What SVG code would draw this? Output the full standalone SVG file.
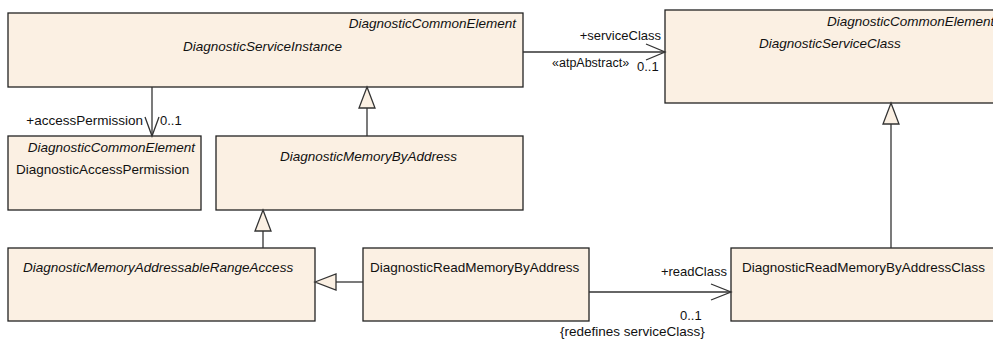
<svg xmlns="http://www.w3.org/2000/svg" width="993" height="341" viewBox="0 0 993 341">
<style>
.box{fill:#FBF0E3;stroke:#222;stroke-width:1.3}
.t{font-family:"Liberation Sans",Arial,sans-serif;font-size:13.5px;fill:#111}
.i{font-style:italic}
.l{font-family:"Liberation Sans",Arial,sans-serif;font-size:13px;fill:#111}
.c{stroke:#333;stroke-width:1.3;fill:none}
.gen{fill:#FBF0E3;stroke:#333;stroke-width:1.3}
</style>
<rect width="993" height="341" fill="#fff"/>
<g id="DiagnosticServiceInstance">
<rect class="box" x="8" y="13" width="515" height="74"/>
<text class="t i" x="516" y="28" text-anchor="end">DiagnosticCommonElement</text>
<text class="t i" x="183" y="51">DiagnosticServiceInstance</text>
</g>
<g id="DiagnosticServiceClass">
<rect class="box" x="665" y="10" width="340" height="93"/>
<text class="t i" x="827" y="26">DiagnosticCommonElement</text>
<text class="t i" x="759" y="48">DiagnosticServiceClass</text>
</g>
<g id="DiagnosticAccessPermission">
<rect class="box" x="8" y="136" width="193" height="74"/>
<text class="t i" x="195" y="152" text-anchor="end">DiagnosticCommonElement</text>
<text class="t" x="16" y="174">DiagnosticAccessPermission</text>
</g>
<g id="DiagnosticMemoryByAddress">
<rect class="box" x="216" y="136" width="307" height="74"/>
<text class="t i" x="280" y="161">DiagnosticMemoryByAddress</text>
</g>
<g id="DiagnosticMemoryAddressableRangeAccess">
<rect class="box" x="8" y="248" width="307" height="73"/>
<text class="t i" x="23" y="272">DiagnosticMemoryAddressableRangeAccess</text>
</g>
<g id="DiagnosticReadMemoryByAddress">
<rect class="box" x="363" y="248" width="226" height="73"/>
<text class="t" x="370" y="272">DiagnosticReadMemoryByAddress</text>
</g>
<g id="DiagnosticReadMemoryByAddressClass">
<rect class="box" x="731" y="248" width="280" height="73"/>
<text class="t" x="742" y="272">DiagnosticReadMemoryByAddressClass</text>
</g>
<g id="connectors">
<path class="c" d="M523 52 H665"/>
<path class="c" d="M646 44 L665 52 L646 60"/>
<text class="l" x="661" y="40" text-anchor="end">+serviceClass</text>
<text class="l" x="552" y="67" style="font-size:12.5px">«atpAbstract»</text>
<text class="l" x="637" y="71">0..1</text>
<path class="c" d="M152 87 V136"/>
<path class="c" d="M145 117 L152 136 L159 117"/>
<text class="l" x="143" y="125" text-anchor="end" style="font-size:13.5px">+accessPermission</text>
<text class="l" x="160" y="125">0..1</text>
<path class="c" d="M367 108 V136"/>
<path class="gen" d="M367 87 L375 108 L359 108 Z"/>
<path class="c" d="M263 231 V248"/>
<path class="gen" d="M263 210 L271 231 L255 231 Z"/>
<path class="c" d="M336 282 H363"/>
<path class="gen" d="M315 282 L336 274 L336 290 Z"/>
<path class="c" d="M891 124 V248"/>
<path class="gen" d="M891 103 L899 124 L883 124 Z"/>
<path class="c" d="M589 292 H731"/>
<path class="c" d="M711 284 L731 292 L711 300"/>
<text class="l" x="727" y="276" text-anchor="end">+readClass</text>
<text class="l" x="680" y="320">0..1</text>
<text class="l" x="560" y="336" style="font-size:13.5px">{redefines serviceClass}</text>
</g>
</svg>
